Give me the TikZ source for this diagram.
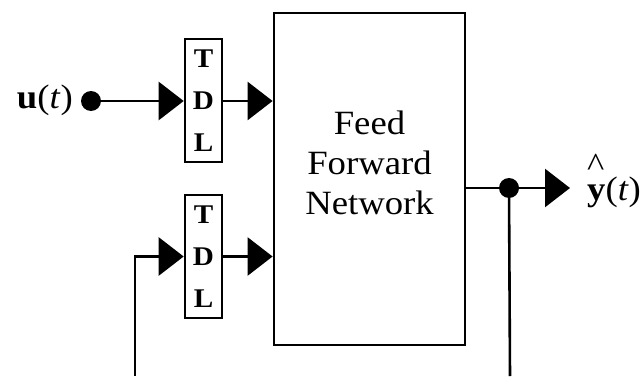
\documentclass[tikz,border=0pt]{standalone}
\usepackage{fontspec}
\setmainfont[FakeStretch=1.08]{Liberation Serif}
\usetikzlibrary{arrows.meta}
\begin{document}
\begin{tikzpicture}[x=1pt,y=1pt,
  wire/.style={line width=2.6pt},
  arr/.style={wire,-{Triangle[length=25pt,width=38pt]}},
  tdl/.style={draw,line width=2.6pt,minimum width=37pt,minimum height=123pt,inner sep=0pt,align=center,
    font=\fontsize{27}{42}\selectfont\bfseries},
  bigbox/.style={draw,line width=2.8pt,minimum width=191pt,minimum height=332pt,inner sep=0pt},
  boxtext/.style={inner sep=0pt,align=center,font=\fontsize{34}{40}\selectfont},
  lbl/.style={inner sep=0pt,font=\fontsize{34}{38}\selectfont},
  dotb/.style={circle,fill=black,inner sep=0pt,minimum size=20pt}]
\useasboundingbox (0,0) rectangle (640,376);
\node[bigbox] (ffn) at (369.5,197) {};
\node[boxtext] (ffnl) at (369.5,213) {Feed\\Forward\\Network};
\node[tdl] (t1) at (203.5,275.5) {T\\D\\L};
\node[tdl] (t2) at (203.5,119.5) {T\\D\\L};
\node[dotb] (ud) at (91,275) {};
\node[lbl,anchor=base east] (u) at (73,268) {\textbf{u}(\textit{t})};
\node[dotb] (od) at (509,188) {};
\coordinate (otip) at (570,188);
\node[lbl,anchor=base west] (yh) at (587,176) {\makebox[0pt][l]{\raisebox{24pt}{\textasciicircum}}\textbf{y}(\textit{t})};
\coordinate (fbl) at (135,0);
\coordinate (fbr) at (510,0);
\draw[arr] (ud) -- (t1.west |- ud);
\draw[arr] (t1.east |- ud) -- (ffn.west |- ud);
\draw[arr] (fbl) |- (t2.west);
\draw[arr] (t2.east) -- (ffn.west |- t2.east);
\draw[wire] (ffn.east |- od) -- (od);
\draw[arr] (od) -- (otip);
\draw[wire] (od) -- (fbr);
\end{tikzpicture}
\end{document}
